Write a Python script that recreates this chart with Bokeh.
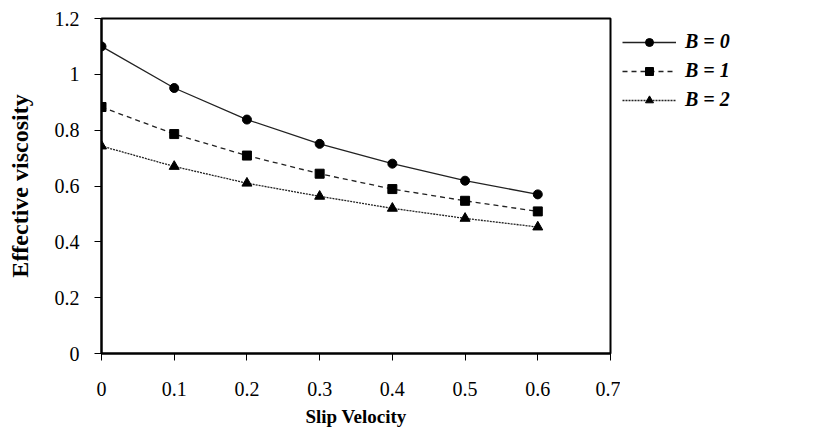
from bokeh.plotting import figure
from bokeh.models import Range1d, FixedTicker, Legend, LegendItem
from bokeh.layouts import row
from bokeh.embed import file_html
from bokeh.resources import INLINE

slip_velocity = [0.0, 0.1, 0.2, 0.3, 0.4, 0.5, 0.6]
visc_b0 = [1.10, 0.951, 0.838, 0.751, 0.680, 0.619, 0.570]
visc_b1 = [0.883, 0.786, 0.709, 0.644, 0.589, 0.547, 0.509]
visc_b2 = [0.743, 0.670, 0.610, 0.563, 0.520, 0.484, 0.453]
series_labels = ["B = 0", "B = 1", "B = 2"]

x_ticks = [0, 0.1, 0.2, 0.3, 0.4, 0.5, 0.6, 0.7]
x_tick_labels = ["0", "0.1", "0.2", "0.3", "0.4", "0.5", "0.6", "0.7"]
y_ticks = [0, 0.2, 0.4, 0.6, 0.8, 1, 1.2]
y_tick_labels = ["0", "0.2", "0.4", "0.6", "0.8", "1", "1.2"]

FONT = "Liberation Serif"
H = 430
TOP, BOTTOM = 18, 77

p = figure(width=620, height=H, output_backend="svg", toolbar_location=None,
           x_range=Range1d(0, 0.7), y_range=Range1d(0, 1.2),
           min_border_left=101, min_border_right=10, min_border_top=TOP, min_border_bottom=BOTTOM)

p.xgrid.visible = False
p.ygrid.visible = False
p.outline_line_color = "black"
p.outline_line_width = 2
p.outline_line_alpha = 1

p.xaxis.ticker = FixedTicker(ticks=x_ticks)
p.xaxis.major_label_overrides = dict(zip(x_ticks, x_tick_labels))
p.yaxis.ticker = FixedTicker(ticks=y_ticks)
p.yaxis.major_label_overrides = dict(zip(y_ticks, y_tick_labels))

for ax in (p.xaxis[0], p.yaxis[0]):
    ax.axis_line_width = 2
    ax.axis_line_color = "black"
    ax.major_tick_line_color = "black"
    ax.major_tick_line_width = 1
    ax.major_tick_out = 7
    ax.major_tick_in = 0
    ax.minor_tick_line_color = None
    ax.major_label_text_font = FONT
    ax.major_label_text_font_size = "20px"
    ax.major_label_text_color = "black"
    ax.axis_label_text_font = FONT
    ax.axis_label_text_font_style = "bold"
    ax.axis_label_text_color = "black"

p.xaxis.axis_label = "Slip Velocity"
p.yaxis.axis_label = "Effective viscosity"
p.xaxis.axis_label_text_font_size = "19px"
p.yaxis.axis_label_text_font_size = "24px"
p.xaxis.major_label_standoff = 21
p.yaxis.major_label_standoff = 15
p.xaxis.axis_label_standoff = 7
p.yaxis.axis_label_standoff = 19

line_color = "#222222"
styles = [
    dict(dash="solid", marker="circle", size=9),
    dict(dash="5 4", marker="square", size=9),
    dict(dash="2 1", marker="triangle", size=10),
]
series = [visc_b0, visc_b1, visc_b2]

for vals, st in zip(series, styles):
    p.line(slip_velocity, vals, line_color=line_color, line_width=1.3, line_dash=st["dash"])
    p.scatter(slip_velocity, vals, marker=st["marker"], size=st["size"], color="black")

# legend panel to the right of the plot frame (its data lie outside its visible range)
lf = figure(width=179, height=H, output_backend="svg", toolbar_location=None,
            x_range=Range1d(10, 11), y_range=Range1d(10, 11),
            min_border_left=0, min_border_right=0, min_border_top=TOP, min_border_bottom=BOTTOM)
lf.axis.visible = False
lf.grid.visible = False
lf.outline_line_color = None

items = []
for lab, vals, st in zip(series_labels, series, styles):
    lr = lf.line(slip_velocity, vals, line_color=line_color, line_width=1.3, line_dash=st["dash"])
    mr = lf.scatter(slip_velocity, vals, marker=st["marker"], size=st["size"] + 2, color="black")
    items.append(LegendItem(label=lab, renderers=[lr, mr]))

legend = Legend(items=items, location=(2, 242))
legend.border_line_color = None
legend.background_fill_alpha = 0
legend.padding = 0
legend.margin = 0
legend.spacing = 6
legend.glyph_width = 54
legend.glyph_height = 20
legend.label_height = 20
legend.label_standoff = 9
legend.label_text_font = FONT
legend.label_text_font_style = "bold italic"
legend.label_text_font_size = "20px"
legend.label_text_color = "black"
lf.add_layout(legend)

layout = row(p, lf, spacing=0)
open("out.html", "w").write(file_html(layout, INLINE))
